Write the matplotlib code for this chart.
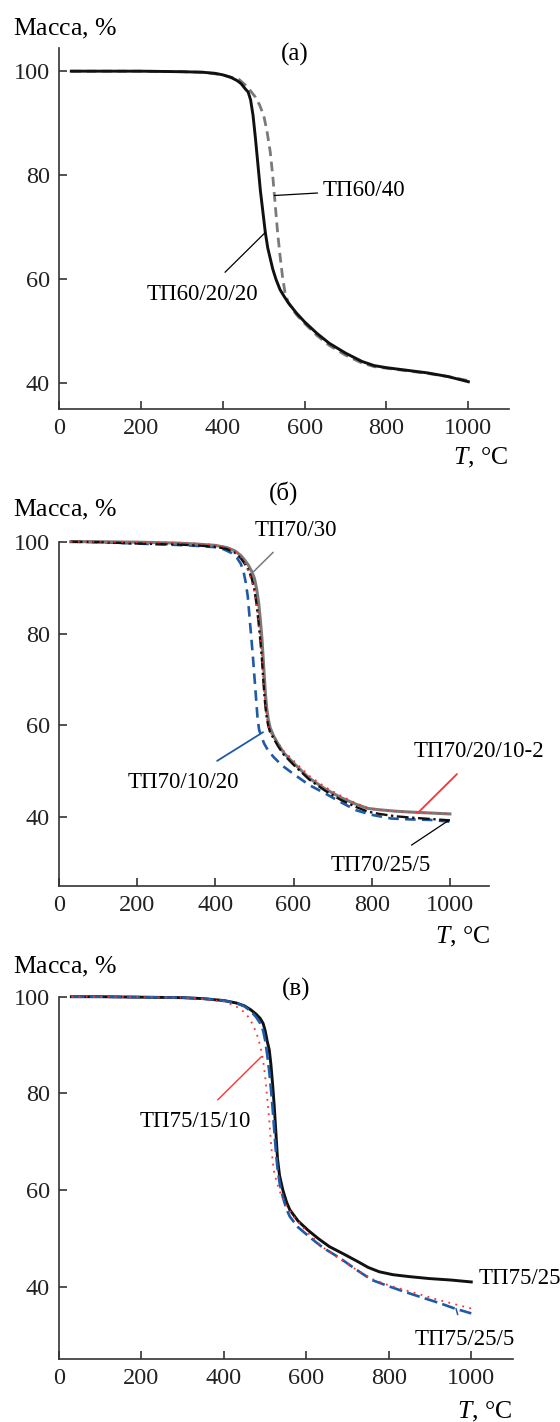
import matplotlib
matplotlib.use('Agg')
import matplotlib.pyplot as plt

plt.rcParams['font.family'] = ['Liberation Serif', 'DejaVu Serif']
plt.rcParams['mathtext.fontset'] = 'custom'
plt.rcParams['mathtext.it'] = 'Liberation Serif:italic'
plt.rcParams['mathtext.rm'] = 'Liberation Serif'

# ---- панель (а) ----
t_a_602020 = [30, 100, 200, 300, 350, 380, 400, 420, 435, 445, 455, 462, 468, 474, 480, 486, 492, 498, 504,
              510, 516, 522, 530, 540, 550, 560, 580, 600, 630, 660, 700, 740, 770, 800, 850, 900, 950, 1000]
m_a_602020 = [100, 100, 100, 99.9, 99.8, 99.6, 99.3, 98.8, 98.2, 97.6, 96.6, 96.0, 94.5, 91.5, 87, 82, 77, 73, 69,
              66, 64, 62, 60, 58, 56.7, 55.5, 53.5, 51.8, 49.6, 47.7, 45.8, 44.2, 43.4, 43.0, 42.5, 42.0, 41.3, 40.3]
t_a_6040 = [30, 100, 200, 300, 350, 400, 440, 460, 470, 480, 490, 500, 508, 516, 522, 528, 534, 540, 546, 552,
            560, 580, 600, 630, 660, 700, 740, 770, 800, 850, 900, 950, 1000]
m_a_6040 = [100, 100, 100, 99.9, 99.8, 99.3, 98.4, 97, 96, 95, 93.5, 91.5, 88.5, 84.5, 80, 74.5, 69, 64.5, 60.5, 57.5,
            55.5, 53.2, 51.5, 49.2, 47.3, 45.4, 43.9, 43.2, 42.9, 42.4, 41.9, 41.3, 40.5]

# ---- панель (б) ----
t_b = [30, 100, 200, 300, 350, 400, 430, 450, 465, 475, 485, 493, 500, 506, 511, 515, 519, 522, 525, 528, 531,
       535, 540, 550, 560, 575, 600, 640, 680, 720, 760, 790, 820, 860, 900, 950, 1000]
m_b_7030 = [100, 100, 99.9, 99.7, 99.5, 99.2, 98.7, 98.0, 97.0, 96.0, 94.8, 93.5, 92, 89.5, 86.5, 83, 79, 75, 71,
            67, 64, 61.5, 59.5, 57.5, 56, 54, 51.8, 48.5, 46.2, 44.3, 42.8, 41.9, 41.6, 41.3, 41.1, 40.9, 40.7]
m_b_70255 = [100, 99.9, 99.6, 99.4, 99.2, 98.9, 98.4, 97.6, 96.4, 95.2, 93.8, 92, 89.5, 86, 82, 78.5, 74.5, 70.5,
             67, 64, 62, 60, 58.5, 57, 55.5, 53.6, 51.4, 48.2, 45.8, 43.8, 42.2, 41.2, 40.7, 40.2, 39.9, 39.6, 39.3]
m_b_7020102 = [100, 100, 99.9, 99.8, 99.6, 99.3, 98.8, 98.0, 96.8, 95.5, 93.5, 91.5, 89, 86, 82.5, 79, 75, 71,
               67.5, 64.5, 62, 60, 58.5, 57.5, 56.2, 54.4, 52.3, 49.0, 46.6, 44.7, 43.0, 42.0, 41.6, 41.3, 41.1,
               40.9, 40.7]
t_b_701020 = [30, 100, 200, 300, 350, 400, 420, 440, 455, 465, 472, 478, 483, 488, 492, 496, 500, 504, 508, 512,
              518, 525, 535, 550, 570, 600, 640, 680, 720, 760, 800, 850, 900, 950, 1000]
m_b_701020 = [100, 99.9, 99.6, 99.3, 99.1, 98.8, 98.4, 97.6, 96.5, 95.2, 93.5, 91, 88, 83, 79, 75, 70.5, 66, 61.5,
              59, 57.5, 56, 54.5, 53, 51.3, 49.4, 47, 45.2, 43.3, 41.5, 40.5, 39.7, 39.5, 39.4, 39.0]

# ---- панель (в) ----
t_c_7525 = [30, 100, 200, 300, 350, 400, 430, 450, 465, 478, 488, 495, 500, 505, 510, 514, 518, 522, 526, 530, 535,
            543, 552, 560, 580, 604, 630, 656, 690, 725, 750, 777, 810, 850, 898, 950, 1000]
m_c_7525 = [100, 100, 99.9, 99.8, 99.6, 99.2, 98.7, 98.1, 97.3, 96.4, 95.5, 94.5, 93, 90.8, 89, 86, 82, 77.5, 72,
            66.5, 63, 60, 57.5, 55.9, 53.6, 51.7, 49.9, 48.3, 46.8, 45.2, 44.0, 43.1, 42.5, 42.1, 41.7, 41.4, 41.0]
t_c_75255 = [30, 100, 200, 300, 350, 400, 430, 450, 465, 478, 488, 495, 500, 505, 510, 514, 518, 522, 526, 530, 535,
             543, 552, 560, 580, 612, 640, 682, 720, 759, 800, 837, 880, 924, 960, 1000]
m_c_75255 = [100, 100, 99.9, 99.8, 99.6, 99.2, 98.7, 98.0, 97.0, 95.8, 94.5, 93, 91, 88, 84.5, 81, 77, 72.5, 68,
             64.5, 61.5, 58.5, 56, 54.5, 52.3, 50, 48.1, 45.9, 43.6, 41.4, 40.1, 39.0, 37.8, 36.6, 35.5, 34.5]
t_c_751510 = [30, 100, 200, 300, 350, 400, 422, 440, 456, 470, 482, 489, 495, 500, 504, 509, 513, 517, 521, 527,
              534, 550, 569, 600, 638, 680, 720, 760, 800, 840, 880, 920, 960, 1000]
m_c_751510 = [100, 100, 99.9, 99.8, 99.5, 99.0, 98.3, 97.5, 96.2, 94.3, 91.7, 89.5, 86.9, 83.5, 80, 75.5, 71, 67,
              64.1, 62, 60, 57, 54.5, 51.5, 48.3, 45.8, 43.6, 41.6, 40.3, 39.3, 38.3, 37.3, 36.4, 35.5]

x_ticks = [0, 200, 400, 600, 800, 1000]
y_ticks = [40, 60, 80, 100]

W, H = 560, 1422
fig = plt.figure(figsize=(W / 100, H / 100), dpi=100)

FS = 17.5      # подписи делений
FS_AX = 18.5   # подписи осей
FS_LBL = 16.5  # подписи кривых

BLUE = '#1f5aa8'
RED = '#ff3030'
GRAY = '#7a7a7a'


def make_axes(px_left, px_right, px_top, px_bottom, ylim, letter, letter_y, label_y_px, xlabel_px):
    ax = fig.add_axes([px_left / W, 1 - px_bottom / H, (px_right - px_left) / W, (px_bottom - px_top) / H])
    ax.set_xlim(0, 1100)
    ax.set_ylim(*ylim)
    ax.spines['top'].set_visible(False)
    ax.spines['right'].set_visible(False)
    for s in ('left', 'bottom'):
        ax.spines[s].set_linewidth(1.2)
        ax.spines[s].set_color('#333333')
    ax.set_xticks(x_ticks)
    ax.set_yticks(y_ticks)
    ax.tick_params(direction='in', length=6, width=1.1, labelsize=FS, pad=6.5, colors='#222222')
    ax.text(575, letter_y, letter, fontsize=18, ha='center', va='center', clip_on=False)
    fig.text(13 / W, 1 - label_y_px / H, 'Масса, $\\mathit{\\%}$', fontsize=FS_AX, ha='left', va='center')
    fig.text(xlabel_px[0] / W, 1 - xlabel_px[1] / H, '$\\mathit{T}$, °C', fontsize=FS_AX, ha='right',
             va='center')
    return ax


# (а)
ax1 = make_axes(59, 509.3, 48.3, 409.3, (35, 104.4), '(а)', 103.3, 29, (508, 458))
ax1.plot(t_a_6040, m_a_6040, color=GRAY, lw=2.0, ls=(0, (3.5, 2)))
ax1.plot(t_a_602020, m_a_602020, color='#111111', lw=2.1)
ax1.annotate('ТП60/40', xy=(526, 76.1), xytext=(645, 77.1), fontsize=FS_LBL, ha='left', va='center',
             arrowprops=dict(arrowstyle='-', color='black', lw=0.9, shrinkA=2, shrinkB=0))
ax1.annotate('ТП60/20/20', xy=(504, 69), xytext=(351, 57.1), fontsize=FS_LBL, ha='center', va='center',
             arrowprops=dict(arrowstyle='-', color='black', lw=0.9, shrinkA=9, shrinkB=0))

# (б)
ax2 = make_axes(59, 489, 541.7, 886, (25, 100), '(б)', 110.5, 510, (490.5, 936.7))
ax2.plot(t_b_701020, m_b_701020, color=BLUE, lw=1.9, ls=(0, (4, 2.4)), clip_on=False)
ax2.plot(t_b, m_b_7030, color=GRAY, lw=2.2, clip_on=False)
ax2.plot(t_b, m_b_70255, color='#111111', lw=1.7, ls=(0, (5, 1.5, 1, 1.5)), clip_on=False)
ax2.plot(t_b, m_b_7020102, color=RED, lw=1.3, ls=(0, (1, 3)), clip_on=False)
ax2.annotate('ТП70/30', xy=(498, 93.5), xytext=(605, 102.5), fontsize=FS_LBL, ha='center', va='center',
             annotation_clip=False,
             arrowprops=dict(arrowstyle='-', color=GRAY, lw=1.1, shrinkA=9, shrinkB=0))
ax2.annotate('ТП70/10/20', xy=(522, 58.5), xytext=(317, 47.6), fontsize=FS_LBL, ha='center', va='center',
             arrowprops=dict(arrowstyle='-', color=BLUE, lw=1.3, shrinkA=11, shrinkB=0))
ax2.annotate('ТП70/20/10-2', xy=(920, 41.1), xytext=(1075, 54.2), fontsize=FS_LBL, ha='center', va='center',
             annotation_clip=False,
             arrowprops=dict(arrowstyle='-', color=RED, lw=1.3, shrinkA=9, shrinkB=0))
ax2.annotate('ТП70/25/5', xy=(997, 39.3), xytext=(824, 29.5), fontsize=FS_LBL, ha='center', va='center',
             arrowprops=dict(arrowstyle='-', color='black', lw=0.9, shrinkA=9, shrinkB=0))

# (в)
ax3 = make_axes(59, 512.5, 996.7, 1359.3, (25, 100), '(в)', 101.4, 966.7, (512, 1412))
ax3.plot(t_c_7525, m_c_7525, color='#111111', lw=2.1, clip_on=False)
ax3.plot(t_c_75255, m_c_75255, color=BLUE, lw=1.9, ls=(0, (5, 2)), clip_on=False)
ax3.plot(t_c_751510, m_c_751510, color=RED, lw=1.3, ls=(0, (1, 3)), clip_on=False)
ax3.annotate('ТП75/15/10', xy=(491, 87.6), xytext=(331, 74.1), fontsize=FS_LBL, ha='center', va='center',
             arrowprops=dict(arrowstyle='-', color=RED, lw=1.0, shrinkA=9, shrinkB=0))
ax3.text(1019, 41.7, 'ТП75/25', fontsize=FS_LBL, ha='left', va='center', clip_on=False)
ax3.annotate('ТП75/25/5', xy=(963, 35.5), xytext=(984, 29), fontsize=FS_LBL, ha='center', va='center',
             annotation_clip=False,
             arrowprops=dict(arrowstyle='-', color=BLUE, lw=1.1, shrinkA=9, shrinkB=0))

fig.savefig('out.png', dpi=100)
